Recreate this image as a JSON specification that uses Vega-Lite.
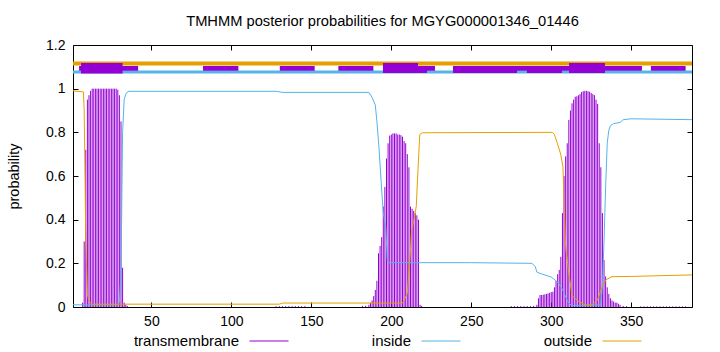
{
  "$schema": "https://vega.github.io/schema/vega-lite/v6.json",
  "width": 619,
  "height": 262,
  "autosize": {"type": "none"},
  "padding": {"left": 73, "top": 45, "right": 28, "bottom": 45},
  "background": "white",
  "title": {
    "text": "TMHMM posterior probabilities for MGYG000001346_01446",
    "font": "Liberation Sans",
    "fontSize": 14.7,
    "fontWeight": "normal",
    "color": "black",
    "anchor": "middle",
    "offset": 9
  },
  "config": {
    "view": {"stroke": "black", "strokeWidth": 1},
    "font": "Liberation Sans",
    "axis": {
      "grid": false,
      "domain": false,
      "tickColor": "black",
      "tickSize": -5,
      "labelFont": "Liberation Sans",
      "labelFontSize": 14,
      "labelColor": "black",
      "titleFont": "Liberation Sans",
      "titleFontSize": 14.5,
      "titleFontWeight": "normal",
      "titleColor": "black"
    }
  },
  "datasets": {
    "tm": [
      {"pos": 7, "prob": 0.02}, {"pos": 8, "prob": 0.3}, {"pos": 9, "prob": 0.72}, {"pos": 10, "prob": 0.95},
      {"pos": 11, "prob": 0.97}, {"pos": 12, "prob": 0.99}, {"pos": 13, "prob": 1.0}, {"pos": 14, "prob": 1.0},
      {"pos": 15, "prob": 1.0}, {"pos": 16, "prob": 1.0}, {"pos": 17, "prob": 1.0}, {"pos": 18, "prob": 1.0},
      {"pos": 19, "prob": 1.0}, {"pos": 20, "prob": 1.0}, {"pos": 21, "prob": 1.0}, {"pos": 22, "prob": 1.0},
      {"pos": 23, "prob": 1.0}, {"pos": 24, "prob": 1.0}, {"pos": 25, "prob": 1.0}, {"pos": 26, "prob": 1.0},
      {"pos": 27, "prob": 1.0}, {"pos": 28, "prob": 1.0}, {"pos": 29, "prob": 0.995}, {"pos": 30, "prob": 0.97},
      {"pos": 31, "prob": 0.85}, {"pos": 32, "prob": 0.18}, {"pos": 33, "prob": 0.02}, {"pos": 34, "prob": 0.01},
      {"pos": 35, "prob": 0.005},
      {"pos": 128, "prob": 0.004}, {"pos": 130, "prob": 0.004}, {"pos": 132, "prob": 0.004}, {"pos": 134, "prob": 0.004},
      {"pos": 136, "prob": 0.004}, {"pos": 138, "prob": 0.004}, {"pos": 140, "prob": 0.004}, {"pos": 142, "prob": 0.004},
      {"pos": 144, "prob": 0.004}, {"pos": 146, "prob": 0.004},
      {"pos": 182, "prob": 0.005}, {"pos": 184, "prob": 0.006}, {"pos": 186, "prob": 0.01}, {"pos": 187, "prob": 0.02},
      {"pos": 188, "prob": 0.03}, {"pos": 189, "prob": 0.05}, {"pos": 190, "prob": 0.078}, {"pos": 191, "prob": 0.12},
      {"pos": 192, "prob": 0.246}, {"pos": 193, "prob": 0.28}, {"pos": 194, "prob": 0.32}, {"pos": 195, "prob": 0.46},
      {"pos": 196, "prob": 0.55}, {"pos": 197, "prob": 0.68}, {"pos": 198, "prob": 0.75}, {"pos": 199, "prob": 0.785},
      {"pos": 200, "prob": 0.79}, {"pos": 201, "prob": 0.795}, {"pos": 202, "prob": 0.795}, {"pos": 203, "prob": 0.795},
      {"pos": 204, "prob": 0.79}, {"pos": 205, "prob": 0.79}, {"pos": 206, "prob": 0.787}, {"pos": 207, "prob": 0.78},
      {"pos": 208, "prob": 0.76}, {"pos": 209, "prob": 0.75}, {"pos": 210, "prob": 0.7}, {"pos": 211, "prob": 0.64},
      {"pos": 212, "prob": 0.46}, {"pos": 213, "prob": 0.45}, {"pos": 214, "prob": 0.44}, {"pos": 215, "prob": 0.43},
      {"pos": 216, "prob": 0.42}, {"pos": 217, "prob": 0.4}, {"pos": 218, "prob": 0.01}, {"pos": 219, "prob": 0.005},
      {"pos": 275, "prob": 0.004}, {"pos": 277, "prob": 0.004}, {"pos": 279, "prob": 0.004}, {"pos": 281, "prob": 0.004},
      {"pos": 283, "prob": 0.004}, {"pos": 285, "prob": 0.004}, {"pos": 287, "prob": 0.004}, {"pos": 289, "prob": 0.005},
      {"pos": 291, "prob": 0.01}, {"pos": 292, "prob": 0.04}, {"pos": 293, "prob": 0.055}, {"pos": 294, "prob": 0.055},
      {"pos": 295, "prob": 0.056}, {"pos": 296, "prob": 0.058}, {"pos": 297, "prob": 0.06}, {"pos": 298, "prob": 0.062},
      {"pos": 299, "prob": 0.065}, {"pos": 300, "prob": 0.068}, {"pos": 301, "prob": 0.07}, {"pos": 302, "prob": 0.09},
      {"pos": 303, "prob": 0.12}, {"pos": 304, "prob": 0.15}, {"pos": 305, "prob": 0.17}, {"pos": 306, "prob": 0.23},
      {"pos": 307, "prob": 0.43}, {"pos": 308, "prob": 0.6}, {"pos": 309, "prob": 0.69}, {"pos": 310, "prob": 0.75},
      {"pos": 311, "prob": 0.857}, {"pos": 312, "prob": 0.9}, {"pos": 313, "prob": 0.933}, {"pos": 314, "prob": 0.95},
      {"pos": 315, "prob": 0.963}, {"pos": 316, "prob": 0.965}, {"pos": 317, "prob": 0.97}, {"pos": 318, "prob": 0.975},
      {"pos": 319, "prob": 0.985}, {"pos": 320, "prob": 0.988}, {"pos": 321, "prob": 0.99}, {"pos": 322, "prob": 0.99},
      {"pos": 323, "prob": 0.988}, {"pos": 324, "prob": 0.986}, {"pos": 325, "prob": 0.98}, {"pos": 326, "prob": 0.975},
      {"pos": 327, "prob": 0.97}, {"pos": 328, "prob": 0.95}, {"pos": 329, "prob": 0.93}, {"pos": 330, "prob": 0.75},
      {"pos": 331, "prob": 0.64}, {"pos": 332, "prob": 0.43}, {"pos": 333, "prob": 0.215}, {"pos": 334, "prob": 0.14},
      {"pos": 335, "prob": 0.09}, {"pos": 336, "prob": 0.06}, {"pos": 337, "prob": 0.04}, {"pos": 338, "prob": 0.03},
      {"pos": 339, "prob": 0.025}, {"pos": 340, "prob": 0.02}, {"pos": 341, "prob": 0.02}, {"pos": 342, "prob": 0.015},
      {"pos": 343, "prob": 0.01}, {"pos": 345, "prob": 0.005}, {"pos": 347, "prob": 0.004},
      {"pos": 356, "prob": 0.003}, {"pos": 358, "prob": 0.003}, {"pos": 360, "prob": 0.003}, {"pos": 362, "prob": 0.003},
      {"pos": 364, "prob": 0.003}, {"pos": 366, "prob": 0.003}, {"pos": 368, "prob": 0.003}, {"pos": 370, "prob": 0.003},
      {"pos": 372, "prob": 0.003}, {"pos": 374, "prob": 0.003}, {"pos": 376, "prob": 0.003}, {"pos": 378, "prob": 0.003},
      {"pos": 380, "prob": 0.003}, {"pos": 382, "prob": 0.003}, {"pos": 384, "prob": 0.003}
    ],
    "curves": [
      {"series": "inside", "pos": 1, "prob": 0.01}, {"series": "inside", "pos": 29, "prob": 0.01},
      {"series": "inside", "pos": 30, "prob": 0.02}, {"series": "inside", "pos": 31, "prob": 0.15},
      {"series": "inside", "pos": 32, "prob": 0.8}, {"series": "inside", "pos": 33, "prob": 0.95},
      {"series": "inside", "pos": 34, "prob": 0.975}, {"series": "inside", "pos": 35, "prob": 0.985},
      {"series": "inside", "pos": 36, "prob": 0.988}, {"series": "inside", "pos": 128, "prob": 0.988},
      {"series": "inside", "pos": 132, "prob": 0.983}, {"series": "inside", "pos": 186, "prob": 0.983},
      {"series": "inside", "pos": 188, "prob": 0.96}, {"series": "inside", "pos": 190, "prob": 0.925},
      {"series": "inside", "pos": 191, "prob": 0.85}, {"series": "inside", "pos": 192.3, "prob": 0.73},
      {"series": "inside", "pos": 194, "prob": 0.536}, {"series": "inside", "pos": 195, "prob": 0.43},
      {"series": "inside", "pos": 196.5, "prob": 0.37}, {"series": "inside", "pos": 197.5, "prob": 0.215},
      {"series": "inside", "pos": 198.6, "prob": 0.203}, {"series": "inside", "pos": 250, "prob": 0.203},
      {"series": "inside", "pos": 288, "prob": 0.2}, {"series": "inside", "pos": 290, "prob": 0.185},
      {"series": "inside", "pos": 291, "prob": 0.16}, {"series": "inside", "pos": 293, "prob": 0.154},
      {"series": "inside", "pos": 300, "prob": 0.137}, {"series": "inside", "pos": 303, "prob": 0.12},
      {"series": "inside", "pos": 305, "prob": 0.105}, {"series": "inside", "pos": 307, "prob": 0.08},
      {"series": "inside", "pos": 308, "prob": 0.064}, {"series": "inside", "pos": 310, "prob": 0.03},
      {"series": "inside", "pos": 311, "prob": 0.018}, {"series": "inside", "pos": 313, "prob": 0.006},
      {"series": "inside", "pos": 331, "prob": 0.01}, {"series": "inside", "pos": 332, "prob": 0.1},
      {"series": "inside", "pos": 333, "prob": 0.3}, {"series": "inside", "pos": 334, "prob": 0.55},
      {"series": "inside", "pos": 335, "prob": 0.75}, {"series": "inside", "pos": 336, "prob": 0.81},
      {"series": "inside", "pos": 337, "prob": 0.83}, {"series": "inside", "pos": 339, "prob": 0.84},
      {"series": "inside", "pos": 343, "prob": 0.845}, {"series": "inside", "pos": 345, "prob": 0.858},
      {"series": "inside", "pos": 350, "prob": 0.862}, {"series": "inside", "pos": 388, "prob": 0.858},
      {"series": "outside", "pos": 1, "prob": 0.99}, {"series": "outside", "pos": 7.5, "prob": 0.985},
      {"series": "outside", "pos": 8, "prob": 0.9}, {"series": "outside", "pos": 8.6, "prob": 0.55},
      {"series": "outside", "pos": 9, "prob": 0.3}, {"series": "outside", "pos": 10, "prob": 0.06},
      {"series": "outside", "pos": 11, "prob": 0.025}, {"series": "outside", "pos": 13, "prob": 0.013},
      {"series": "outside", "pos": 130, "prob": 0.013}, {"series": "outside", "pos": 132, "prob": 0.018},
      {"series": "outside", "pos": 207, "prob": 0.018}, {"series": "outside", "pos": 208, "prob": 0.03},
      {"series": "outside", "pos": 210, "prob": 0.063}, {"series": "outside", "pos": 211.5, "prob": 0.2},
      {"series": "outside", "pos": 212.7, "prob": 0.35}, {"series": "outside", "pos": 214.2, "prob": 0.4},
      {"series": "outside", "pos": 215.6, "prob": 0.46}, {"series": "outside", "pos": 216.9, "prob": 0.66},
      {"series": "outside", "pos": 217.8, "prob": 0.79}, {"series": "outside", "pos": 219.4, "prob": 0.798},
      {"series": "outside", "pos": 300.6, "prob": 0.8}, {"series": "outside", "pos": 302, "prob": 0.79},
      {"series": "outside", "pos": 303.8, "prob": 0.75}, {"series": "outside", "pos": 305.9, "prob": 0.7},
      {"series": "outside", "pos": 307.3, "prob": 0.643}, {"series": "outside", "pos": 308.2, "prob": 0.43},
      {"series": "outside", "pos": 309, "prob": 0.276}, {"series": "outside", "pos": 311, "prob": 0.154},
      {"series": "outside", "pos": 313.1, "prob": 0.047}, {"series": "outside", "pos": 314.2, "prob": 0.045},
      {"series": "outside", "pos": 315, "prob": 0.04}, {"series": "outside", "pos": 317.3, "prob": 0.024},
      {"series": "outside", "pos": 321.5, "prob": 0.009}, {"series": "outside", "pos": 325.6, "prob": 0.01},
      {"series": "outside", "pos": 328.8, "prob": 0.03}, {"series": "outside", "pos": 331.9, "prob": 0.093},
      {"series": "outside", "pos": 334, "prob": 0.124}, {"series": "outside", "pos": 338, "prob": 0.139},
      {"series": "outside", "pos": 350, "prob": 0.14}, {"series": "outside", "pos": 388, "prob": 0.147}
    ],
    "boxes": [
      {"start": 4.8, "end": 41.7, "lo": 1.082, "hi": 1.104},
      {"start": 6, "end": 32, "lo": 1.069, "hi": 1.118},
      {"start": 82.3, "end": 104.4, "lo": 1.082, "hi": 1.104},
      {"start": 130.3, "end": 152.1, "lo": 1.082, "hi": 1.104},
      {"start": 166.9, "end": 188.8, "lo": 1.082, "hi": 1.104},
      {"start": 194.8, "end": 216.7, "lo": 1.072, "hi": 1.118},
      {"start": 194.8, "end": 227.3, "lo": 1.082, "hi": 1.104},
      {"start": 216.7, "end": 222.3, "lo": 1.072, "hi": 1.104},
      {"start": 238.6, "end": 356.7, "lo": 1.082, "hi": 1.104},
      {"start": 238.6, "end": 278.6, "lo": 1.072, "hi": 1.104},
      {"start": 284.8, "end": 306.7, "lo": 1.072, "hi": 1.104},
      {"start": 311.1, "end": 333.6, "lo": 1.072, "hi": 1.118},
      {"start": 362.3, "end": 384, "lo": 1.082, "hi": 1.104}
    ],
    "bands": [
      {"series": "outside", "start": 1, "end": 388, "level": 1.115},
      {"series": "inside", "start": 1, "end": 388, "level": 1.076}
    ]
  },
  "resolve": {"axis": {"x": "independent", "y": "independent"}},
  "layer": [
    {
      "data": {"name": "bands"},
      "transform": [{"filter": "datum.series == 'outside'"}],
      "mark": {"type": "rule", "strokeWidth": 4, "color": "#e69f00"},
      "encoding": {
        "x": {"field": "start", "type": "quantitative", "scale": {"domain": [1, 388], "nice": false, "zero": false},
              "axis": {"orient": "top", "labels": false, "title": null, "values": [50, 100, 150, 200, 250, 300, 350]}},
        "x2": {"field": "end"},
        "y": {"field": "level", "type": "quantitative", "scale": {"domain": [0, 1.2], "nice": false},
              "axis": {"orient": "right", "labels": false, "title": null, "values": [0, 0.2, 0.4, 0.6, 0.8, 1, 1.2]}}
      }
    },
    {
      "data": {"name": "bands"},
      "transform": [{"filter": "datum.series == 'inside'"}],
      "mark": {"type": "rule", "strokeWidth": 3, "color": "#56b4e9"},
      "encoding": {
        "x": {"field": "start", "type": "quantitative", "axis": null},
        "x2": {"field": "end"},
        "y": {"field": "level", "type": "quantitative", "axis": null}
      }
    },
    {
      "data": {"name": "boxes"},
      "mark": {"type": "rect", "color": "#9400d3"},
      "encoding": {
        "x": {"field": "start", "type": "quantitative", "axis": null},
        "x2": {"field": "end"},
        "y": {"field": "lo", "type": "quantitative", "axis": null},
        "y2": {"field": "hi"}
      }
    },
    {
      "data": {"name": "tm"},
      "mark": {"type": "rule", "strokeWidth": 1},
      "encoding": {
        "x": {"field": "pos", "type": "quantitative",
              "axis": {"orient": "bottom", "title": null, "values": [50, 100, 150, 200, 250, 300, 350], "labelPadding": 12}},
        "y": {"field": "prob", "type": "quantitative",
              "axis": {"orient": "left", "title": "probability", "values": [0, 0.2, 0.4, 0.6, 0.8, 1, 1.2],
                       "labelExpr": "toString(round(datum.value*10)/10)", "labelPadding": 13, "titlePadding": 24}},
        "y2": {"datum": 0},
        "color": {"datum": "transmembrane", "type": "nominal",
                  "scale": {"domain": ["transmembrane", "inside", "outside"], "range": ["#9400d3", "#56b4e9", "#e69f00"]},
                  "legend": {
                    "orient": "none", "legendX": 176, "legendY": 276, "direction": "horizontal", "columns": 3,
                    "columnPadding": 80, "title": null, "padding": 0,
                    "symbolType": "stroke", "symbolSize": 1521, "symbolStrokeWidth": 1,
                    "labelAlign": "right", "labelOffset": -50, "labelFontSize": 15,
                    "labelFont": "Liberation Sans", "labelColor": "black", "labelLimit": 300
                  }}
      }
    },
    {
      "data": {"name": "curves"},
      "mark": {"type": "line", "strokeWidth": 1},
      "encoding": {
        "x": {"field": "pos", "type": "quantitative", "axis": null},
        "y": {"field": "prob", "type": "quantitative", "axis": null},
        "color": {"field": "series", "type": "nominal", "legend": null}
      }
    }
  ]
}
